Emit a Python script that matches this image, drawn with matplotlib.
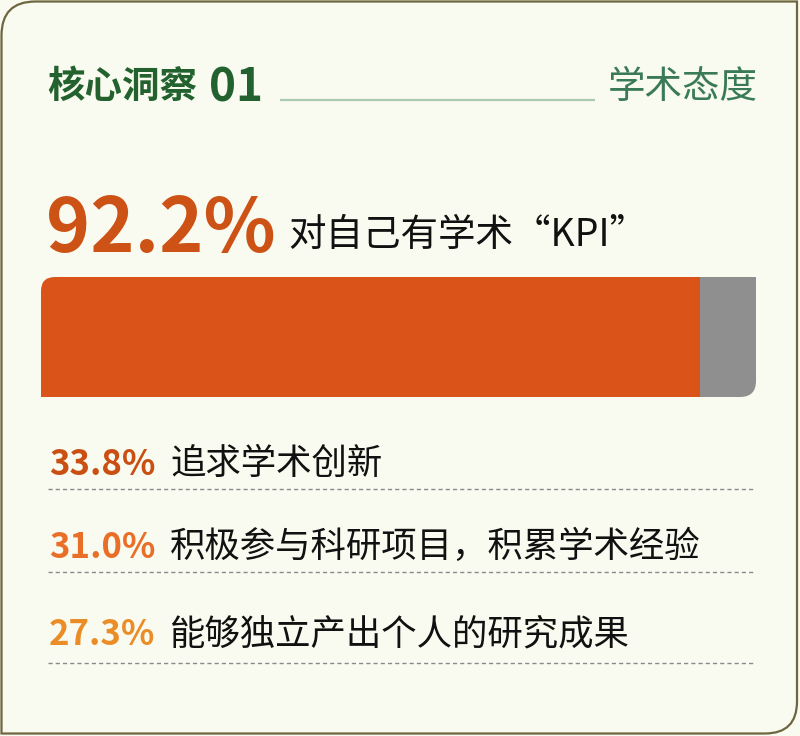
import matplotlib
matplotlib.use("Agg")
import matplotlib.pyplot as plt
from matplotlib.path import Path
from matplotlib.patches import PathPatch

plt.rcParams['font.family'] = ['Noto Sans CJK SC', 'DejaVu Sans']

# data
title = "核心洞察"
title_no = "01"
topic = "学术态度"
kpi_share = 92.2
kpi_label = "对自己有学术“KPI”"
row_values = [33.8, 31.0, 27.3]
row_labels = ["追求学术创新", "积极参与科研项目，积累学术经验", "能够独立产出个人的研究成果"]
row_colors = ["#c94f13", "#e96f29", "#ea8d27"]

BG = "#fafbf0"
W, H = 800, 736


def rounded_path(x0, y0, x1, y1, rx_tl=0, rx_br=0, ry_tl=None, ry_br=None):
    # y0 is the "top" edge in the drawing frame, y1 the "bottom"
    ry_tl = rx_tl if ry_tl is None else ry_tl
    ry_br = rx_br if ry_br is None else ry_br
    sy = 1 if y1 > y0 else -1
    verts = [(x0 + rx_tl, y0), (x1, y0), (x1, y1 - sy * ry_br),
             (x1, y1), (x1 - rx_br, y1), (x0, y1), (x0, y0 + sy * ry_tl),
             (x0, y0), (x0 + rx_tl, y0), (x0 + rx_tl, y0)]
    codes = [Path.MOVETO, Path.LINETO, Path.LINETO,
             Path.CURVE3, Path.CURVE3, Path.LINETO, Path.LINETO,
             Path.CURVE3, Path.CURVE3, Path.CLOSEPOLY]
    return Path(verts, codes)


fig = plt.figure(figsize=(8, 7.36), dpi=100, facecolor=BG)
ax = fig.add_axes([0, 0, 1, 1])
ax.set_xlim(0, W)
ax.set_ylim(H, 0)
ax.axis("off")

# card
card = PathPatch(rounded_path(1.5, 1.5, 797, 733.5, 34, 32), facecolor=BG,
                 edgecolor="#6e6640", lw=1.6)
ax.add_patch(card)

# header
ax.text(47, 98, title, fontsize=27, fontweight="bold", color="#23622e", va="baseline")
ax.text(209, 101, title_no, fontsize=33, fontweight="black", color="#23622e", va="baseline")
ax.plot([280, 595], [100, 100], color="#a9c9b1", lw=1.6, solid_capstyle="butt")
ax.text(608, 98, topic, fontsize=27, color="#3a7a56", va="baseline")

# headline number
ax.text(46, 252, f"{kpi_share}%", fontsize=54, fontweight="bold", color="#cc5215", va="baseline")
ax.text(288, 246, kpi_label, fontsize=27, color="#111111", va="baseline")

# stacked bar
bx0, bx1, by0, by1 = 41, 756, 277, 397
bax = fig.add_axes([bx0 / W, 1 - by1 / H, (bx1 - bx0) / W, (by1 - by0) / H])
bax.set_xlim(0, 100)
bax.set_ylim(-0.5, 0.5)
bax.axis("off")
bars = bax.barh(0, [kpi_share, 100 - kpi_share], left=[0, kpi_share], height=1,
                color=["#da5419", "#8f8f8f"], edgecolor="none")
clip = rounded_path(0, 1, 1, 0, 14 / (bx1 - bx0), 16 / (bx1 - bx0),
                    14 / (by1 - by0), 16 / (by1 - by0))
for b in bars:
    b.set_clip_path(clip, bax.transAxes)

# detail rows
baselines = [475, 558, 645]
dash_y = [489, 572, 663]
for val, lab, col, yb, yd in zip(row_values, row_labels, row_colors, baselines, dash_y):
    ax.text(49, yb, f"{val:.1f}%", fontsize=25, fontweight="bold", color=col, va="baseline")
    ax.text(170, yb - 1, lab, fontsize=25.5, color="#111111", va="baseline")
    ax.plot([48, 753], [yd, yd], color="#8a8a8a", lw=1.0, dashes=(3, 2.2))

fig.savefig("out.png", dpi=100, facecolor=BG)
